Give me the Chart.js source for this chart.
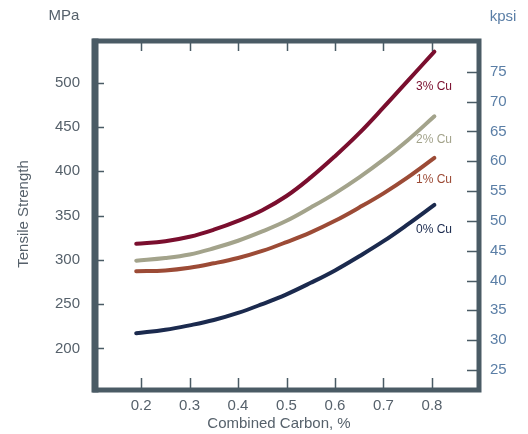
<!DOCTYPE html>
<html>
<head>
<meta charset="utf-8">
<script src="https://cdn.jsdelivr.net/npm/chart.js@4/dist/chart.umd.min.js"></script>
<style>
html,body{margin:0;padding:0;background:#fff;}
#wrap{width:528px;height:434px;position:relative;}
</style>
</head>
<body>
<div id="wrap"><canvas id="c" width="528" height="434"></canvas></div>
<script>
// Combined carbon, %
const carbon = [0.19, 0.25, 0.3, 0.35, 0.4, 0.45, 0.5, 0.55, 0.6, 0.65, 0.7, 0.75, 0.805];
// Tensile strength, MPa
const cu0 = [217, 221, 226, 232, 240, 250, 261, 274, 288, 304, 321, 340, 362];
const cu1 = [287, 288, 291, 296, 302, 310, 320, 331, 344, 359, 375, 393, 415];
const cu2 = [299, 302, 306, 313, 321.5, 332, 344, 359, 375, 393, 413, 435, 462];
const cu3 = [318, 321, 326, 334, 344, 356, 372, 393, 417, 443, 472, 502, 535];

const seriesNames = ["0% Cu", "1% Cu", "2% Cu", "3% Cu"];
const seriesColors = ["#1b2a4e", "#9c4b36", "#a3a38b", "#7a0e2e"];
const labelCarbon = 0.767;
const labelMPa = [334.5, 390, 435.5, 495.5];

const xTicks = [0.2, 0.3, 0.4, 0.5, 0.6, 0.7, 0.8];
const mpaTicks = [200, 250, 300, 350, 400, 450, 500];
const kpsiTicks = [25, 30, 35, 40, 45, 50, 55, 60, 65, 70, 75];

const FONT = "'Liberation Sans', Arial, sans-serif";
const GREY = "#56616b";
const BLUE = "#5a7ea6";
const FRAME = "#4a5b65";

const allSeries = [cu0, cu1, cu2, cu3];
const datasets = allSeries.map((vals, i) => ({
  label: seriesNames[i],
  data: carbon.map((c, j) => ({x: c, y: vals[j]})),
  borderColor: seriesColors[i],
  borderWidth: 4,
  borderCapStyle: 'round',
  pointRadius: 0,
  tension: 0.4,
  fill: false,
  yAxisID: 'y'
}));

const decor = {
  id: 'decor',
  afterDatasetsDraw(chart) {
    const ctx = chart.ctx;
    const a = chart.chartArea;
    const xs = chart.scales.x, ys = chart.scales.y, y2 = chart.scales.y2;
    ctx.save();
    // inward tick marks
    ctx.strokeStyle = FRAME;
    ctx.lineWidth = 1.5;
    ctx.beginPath();
    xTicks.forEach(v => {
      const px = Math.round(xs.getPixelForValue(v)) + 0.5;
      ctx.moveTo(px, a.bottom); ctx.lineTo(px, a.bottom - 12);
      ctx.moveTo(px, a.top); ctx.lineTo(px, a.top + 10);
    });
    mpaTicks.forEach(v => {
      const py = Math.round(ys.getPixelForValue(v)) + 0.5;
      ctx.moveTo(a.left, py); ctx.lineTo(a.left + 9, py);
    });
    kpsiTicks.forEach(v => {
      const py = Math.round(y2.getPixelForValue(v)) + 0.5;
      ctx.moveTo(a.right, py); ctx.lineTo(a.right - 12, py);
    });
    ctx.stroke();
    // frame
    ctx.lineWidth = 5;
    ctx.strokeRect(a.left, a.top, a.right - a.left, a.bottom - a.top);
    ctx.lineWidth = 7;
    ctx.beginPath();
    ctx.moveTo(a.left, a.top - 2.5); ctx.lineTo(a.left, a.bottom + 2.5);
    ctx.stroke();
    // series labels
    ctx.font = "12px " + FONT;
    ctx.textAlign = 'left';
    ctx.textBaseline = 'middle';
    seriesNames.forEach((n, i) => {
      ctx.fillStyle = seriesColors[i];
      ctx.fillText(n, xs.getPixelForValue(labelCarbon), ys.getPixelForValue(labelMPa[i]));
    });
    // unit labels & axis titles
    ctx.font = "15px " + FONT;
    ctx.fillStyle = GREY;
    ctx.textAlign = 'center';
    ctx.fillText("MPa", 64, 16);
    ctx.fillText("Combined Carbon, %", 279, 424);
    ctx.fillStyle = BLUE;
    ctx.fillText("kpsi", 503, 17);
    ctx.save();
    ctx.translate(24, 214);
    ctx.rotate(-Math.PI / 2);
    ctx.fillStyle = GREY;
    ctx.fillText("Tensile Strength", 0, 0);
    ctx.restore();
    ctx.restore();
  }
};

new Chart(document.getElementById('c'), {
  type: 'line',
  data: { datasets },
  options: {
    responsive: false,
    animation: false,
    devicePixelRatio: 1,
    layout: { padding: { top: 41, left: 0, right: 0, bottom: 0 } },
    plugins: { legend: { display: false }, tooltip: { enabled: false } },
    scales: {
      x: {
        type: 'linear',
        min: 0.105, max: 0.897,
        afterBuildTicks: s => { s.ticks = xTicks.map(v => ({value: v})); },
        afterFit: s => { s.height = 44; },
        grid: { display: false, drawTicks: false },
        border: { display: false },
        ticks: { color: GREY, font: { family: FONT, size: 15 }, padding: 7,
                 callback: v => v.toFixed(1), maxRotation: 0, autoSkip: false }
      },
      y: {
        type: 'linear', position: 'left',
        min: 153, max: 547,
        afterBuildTicks: s => { s.ticks = mpaTicks.map(v => ({value: v})); },
        afterFit: s => { s.width = 95; },
        grid: { display: false, drawTicks: false },
        border: { display: false },
        ticks: { color: GREY, font: { family: FONT, size: 15 }, padding: 15 }
      },
      y2: {
        type: 'linear', position: 'right',
        min: 21.65, max: 80.15,
        afterBuildTicks: s => { s.ticks = kpsiTicks.map(v => ({value: v})); },
        afterFit: s => { s.width = 49; },
        grid: { display: false, drawTicks: false },
        border: { display: false },
        ticks: { color: BLUE, font: { family: FONT, size: 15 }, padding: 11 }
      }
    }
  },
  plugins: [decor]
});
</script>
</body>
</html>
